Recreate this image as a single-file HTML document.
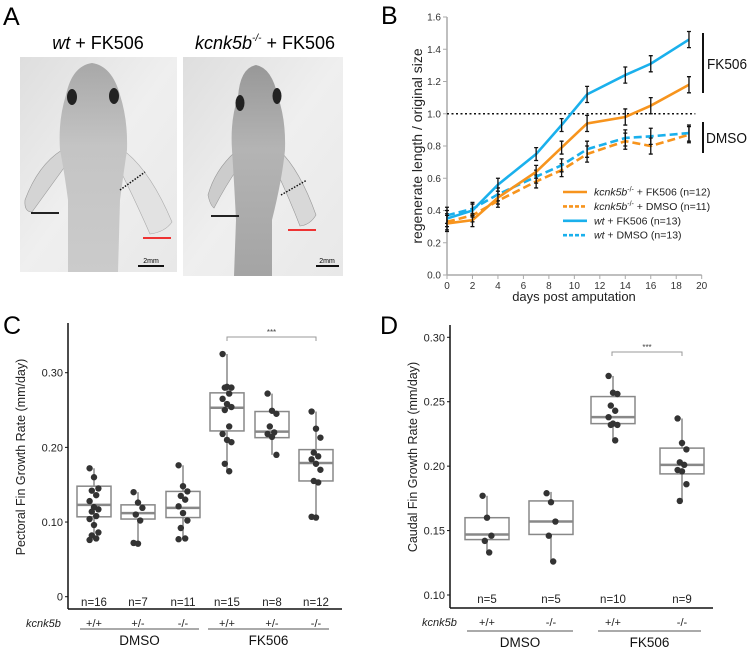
<!DOCTYPE html>
<html><head><meta charset="utf-8"><style>
html,body{margin:0;padding:0;background:#fff;}
svg{display:block;font-family:"Liberation Sans",sans-serif;}
</style></head><body>
<svg id="fig" width="750" height="649" viewBox="0 0 750 649" xmlns="http://www.w3.org/2000/svg">
<defs>
<linearGradient id="bg1" x1="0" y1="0" x2="1" y2="1"><stop offset="0" stop-color="#dedede"/><stop offset="0.5" stop-color="#efefef"/><stop offset="1" stop-color="#e8e8e8"/></linearGradient>
<linearGradient id="body1" x1="0" y1="0" x2="0" y2="1"><stop offset="0" stop-color="#a8a8a8"/><stop offset="0.4" stop-color="#c4c4c4"/><stop offset="1" stop-color="#cbcbcb"/></linearGradient>
<linearGradient id="body2" x1="0" y1="0" x2="0" y2="1"><stop offset="0" stop-color="#989898"/><stop offset="0.4" stop-color="#b4b4b4"/><stop offset="1" stop-color="#a4a4a4"/></linearGradient>
</defs>
<!-- Panel A -->
<g>
<text x="3" y="25" font-size="25">A</text>
<text x="98" y="49" font-size="18" text-anchor="middle"><tspan font-style="italic">wt</tspan> + FK506</text>
<text x="265" y="49" font-size="18" text-anchor="middle"><tspan font-style="italic">kcnk5b</tspan><tspan font-size="10" dy="-8" font-style="italic">-/-</tspan><tspan dy="8"> + FK506</tspan></text>
<g>
<rect x="20" y="57" width="157" height="215" fill="url(#bg1)"/>
<path d="M62,150 Q38,165 25,200 Q24,212 32,212 Q48,190 66,165 Z" fill="#d4d4d4" stroke="#999" stroke-width="0.6"/>
<path d="M123,150 Q150,170 172,222 Q165,232 150,234 Q135,200 120,170 Z" fill="#e2e2e2" stroke="#aaa" stroke-width="0.6"/>
<path d="M92,63 Q72,66 66,95 Q58,120 60,150 Q64,170 68,200 L68,272 L118,272 L120,200 Q124,170 127,150 Q128,120 120,95 Q112,66 92,63 Z" fill="url(#body1)"/>
<ellipse cx="72" cy="97" rx="5" ry="8" fill="#222"/>
<ellipse cx="114" cy="96" rx="5" ry="8" fill="#222"/>
<line x1="31" y1="213" x2="59" y2="213" stroke="#222" stroke-width="2"/>
<line x1="143" y1="238" x2="171" y2="238" stroke="#e33" stroke-width="2"/>
<line x1="120" y1="190" x2="145" y2="172" stroke="#111" stroke-width="1.5" stroke-dasharray="1.5,1.5"/>
<line x1="138" y1="266" x2="164" y2="266" stroke="#111" stroke-width="2"/>
<text x="151" y="263" font-size="7" text-anchor="middle">2mm</text>
</g>
<g>
<rect x="183" y="57" width="160" height="219" fill="url(#bg1)"/>
<path d="M235,152 Q215,170 208,195 Q210,205 214,208 Q226,185 238,168 Z" fill="#cccccc" stroke="#999" stroke-width="0.6"/>
<path d="M279,150 Q300,170 316,215 Q310,225 300,226 Q290,200 276,170 Z" fill="#d8d8d8" stroke="#999" stroke-width="0.6"/>
<path d="M256,65 Q240,68 238,97 Q230,120 232,150 Q234,180 236,220 L234,276 L272,276 L272,220 Q282,180 285,150 Q286,120 278,97 Q272,68 256,65 Z" fill="url(#body2)"/>
<ellipse cx="240" cy="103" rx="4.5" ry="8" fill="#222"/>
<ellipse cx="277" cy="96" rx="4.5" ry="8" fill="#222"/>
<line x1="211" y1="216" x2="239" y2="216" stroke="#222" stroke-width="2"/>
<line x1="288" y1="230" x2="316" y2="230" stroke="#e33" stroke-width="2"/>
<line x1="281" y1="195" x2="307" y2="180" stroke="#111" stroke-width="1.5" stroke-dasharray="1.5,1.5"/>
<line x1="316" y1="266" x2="339" y2="266" stroke="#111" stroke-width="2"/>
<text x="327" y="263" font-size="7" text-anchor="middle">2mm</text>
</g>
</g>
<g id="pb"></g>
<g id="pc"></g>
<g id="pd"></g>
</svg>
<script>
// ---------- Panel B data ----------
const daysB = [0,2,4,7,9,11,14,16,19];
const kcnkFK = [0.32,0.34,0.48,0.64,0.79,0.94,0.98,1.05,1.18];
const kcnkDM = [0.33,0.37,0.46,0.58,0.65,0.75,0.83,0.80,0.87];
const wtFK = [0.35,0.40,0.56,0.75,0.93,1.12,1.24,1.31,1.46];
const wtDM = [0.37,0.41,0.50,0.61,0.68,0.78,0.85,0.86,0.88];
const errB = [0.05,0.04,0.04,0.04,0.04,0.05,0.05,0.05,0.05];
const yTicksB = [0,0.2,0.4,0.6,0.8,1.0,1.2,1.4,1.6];
const xTicksB = [0,2,4,6,8,10,12,14,16,18,20];

// ---------- Panel C data ----------
const catsC = ['+/+','+/-','-/-','+/+','+/-','-/-'];
const nC = ['n=16','n=7','n=11','n=15','n=8','n=12'];
const q1C = [0.107,0.104,0.106,0.222,0.213,0.155];
const medC = [0.123,0.112,0.119,0.253,0.221,0.179];
const q3C = [0.148,0.123,0.141,0.273,0.248,0.197];
const minC = [0.076,0.072,0.077,0.168,0.190,0.107];
const maxC = [0.172,0.140,0.176,0.325,0.272,0.248];
const ptsC = [
 [0.172,0.160,0.145,0.142,0.136,0.128,0.120,0.117,0.114,0.108,0.104,0.096,0.086,0.082,0.078,0.076],
 [0.140,0.126,0.119,0.110,0.102,0.072,0.071],
 [0.176,0.148,0.141,0.135,0.130,0.121,0.112,0.102,0.092,0.078,0.077],
 [0.325,0.281,0.280,0.280,0.272,0.265,0.258,0.254,0.250,0.228,0.218,0.210,0.207,0.178,0.168],
 [0.272,0.249,0.245,0.228,0.220,0.218,0.214,0.190],
 [0.248,0.225,0.213,0.193,0.188,0.184,0.178,0.170,0.155,0.153,0.107,0.106]];
const yTicksC = [0,0.10,0.20,0.30];
const yLabC = ['0','0.10','0.20','0.30'];

// ---------- Panel D data ----------
const catsD = ['+/+','-/-','+/+','-/-'];
const nD = ['n=5','n=5','n=10','n=9'];
const q1D = [0.143,0.147,0.233,0.194];
const medD = [0.147,0.157,0.238,0.201];
const q3D = [0.160,0.173,0.254,0.214];
const minD = [0.133,0.126,0.220,0.173];
const maxD = [0.177,0.180,0.270,0.237];
const ptsD = [
 [0.177,0.160,0.146,0.142,0.133],
 [0.179,0.172,0.157,0.146,0.126],
 [0.270,0.257,0.256,0.247,0.243,0.238,0.233,0.232,0.232,0.220],
 [0.237,0.218,0.213,0.203,0.201,0.197,0.196,0.186,0.173]];
const yTicksD = [0.10,0.15,0.20,0.25,0.30];
const yLabD = ['0.10','0.15','0.20','0.25','0.30'];

const NS='http://www.w3.org/2000/svg';
function mk(parent, tag, attrs, txt){
  const e=document.createElementNS(NS,tag);
  for(const k in attrs) e.setAttribute(k,attrs[k]);
  if(txt!==undefined) e.textContent=txt;
  parent.appendChild(e); return e;
}
let el;

// ===== Panel B =====
(function(){
const g=document.getElementById('pb');
const X=d=>447+d*(701.7-447)/20;
const Y=v=>275-v*(275-17)/1.6;
el=mk(g,'text',{x:381,y:24,'font-size':25},'B');


el=mk(g,'line',{x1:447,y1:Y(1.6),x2:447,y2:275,stroke:'#aaa','stroke-width':1.5});


el=mk(g,'line',{x1:447,y1:275,x2:X(20),y2:275,stroke:'#aaa','stroke-width':1.5});


yTicksB.forEach(v=>{
  el=mk(g,'line',{x1:443,y1:Y(v),x2:447,y2:Y(v),stroke:'#aaa'});
  
  
  el=mk(g,'text',{x:441,y:Y(v)+3.5,'font-size':10,'text-anchor':'end',fill:'#333'},v.toFixed(1));
  
  
});
xTicksB.forEach(v=>{
  el=mk(g,'line',{x1:X(v),y1:275,x2:X(v),y2:279,stroke:'#aaa'});
  
  
  el=mk(g,'text',{x:X(v),y:289,'font-size':10,'text-anchor':'middle',fill:'#333'},String(v));
  
  
});
el=mk(g,'text',{x:574,y:301,'font-size':13,'text-anchor':'middle',fill:'#222'},'days post amputation');


el=mk(g,'text',{x:0,y:0,'font-size':14,'text-anchor':'middle',fill:'#222',transform:'translate(422,146) rotate(-90)'},'regenerate length / original size');


el=mk(g,'line',{x1:447,y1:Y(1.0),x2:X(19.5),y2:Y(1.0),stroke:'#111','stroke-width':1.6,'stroke-dasharray':'2,2.5'});


const series=[[kcnkDM,'#f7941d',true],[wtDM,'#1ab0ec',true],[kcnkFK,'#f7941d',false],[wtFK,'#1ab0ec',false]];
series.forEach(([vals,col,dash])=>{
  const d=vals.map((v,i)=>(i?'L':'M')+X(daysB[i])+','+Y(v)).join(' ');
  el=mk(g,'path',{d:d,fill:'none',stroke:col,'stroke-width':2.6,'stroke-dasharray':dash?'8,4':'none'});
  
  
  vals.forEach((v,i)=>{
    const x=X(daysB[i]),e=errB[i];
    el=mk(g,'path',{d:`M${x},${Y(v+e)}L${x},${Y(v-e)}M${x-2},${Y(v+e)}L${x+2},${Y(v+e)}M${x-2},${Y(v-e)}L${x+2},${Y(v-e)}`,stroke:'#111','stroke-width':1.3,fill:'none'});
    
    
  });
});
// legend
const leg=[['kcnk5b','-/-',' + FK506 (n=12)','#f7941d',false],['kcnk5b','-/-',' + DMSO (n=11)','#f7941d',true],['wt','',' + FK506 (n=13)','#1ab0ec',false],['wt','',' + DMSO (n=13)','#1ab0ec',true]];
leg.forEach((l,i)=>{
  const y=192+i*14.4;
  el=mk(g,'line',{x1:563,y1:y,x2:587,y2:y,stroke:l[3],'stroke-width':2.6,'stroke-dasharray':l[4]?'4,2':'none'});
  
  
  const t=mk(g,'text',{x:594,y:y+3.5,'font-size':10.5,fill:'#222'});
  
  
  mk(t,'tspan',{'font-style':'italic'},l[0]);
  if(l[1]){mk(t,'tspan',{'font-size':7,dy:-4},l[1]);mk(t,'tspan',{dy:4},l[2]);} else mk(t,'tspan',{},l[2]);
});
el=mk(g,'line',{x1:703,y1:33,x2:703,y2:93,stroke:'#111','stroke-width':2});


el=mk(g,'text',{x:707,y:69,'font-size':15,fill:'#111',textLength:40,lengthAdjust:'spacingAndGlyphs'},'FK506');


el=mk(g,'line',{x1:703,y1:122,x2:703,y2:153,stroke:'#111','stroke-width':2});


el=mk(g,'text',{x:706,y:143,'font-size':15,fill:'#111',textLength:41,lengthAdjust:'spacingAndGlyphs'},'DMSO');


})();

// ===== Box plot helper =====
function boxPanel(g,o){
  const Y=v=>o.y0+(v-o.v0)*(o.y1-o.y0)/(o.v1-o.v0);
  el=mk(g,'text',{x:o.lx,y:o.ly,'font-size':25},o.label);
  
  
  el=mk(g,'line',{x1:o.ax,y1:o.top,x2:o.ax,y2:o.bot,stroke:'#111','stroke-width':1.5});
  
  
  el=mk(g,'line',{x1:o.ax,y1:o.bot,x2:o.axEnd,y2:o.bot,stroke:'#111','stroke-width':1.5});
  
  
  o.ticks.forEach((v,i)=>{
    el=mk(g,'line',{x1:o.ax-3,y1:Y(v),x2:o.ax,y2:Y(v),stroke:'#111'});
    
    
    el=mk(g,'text',{x:o.ax-5,y:Y(v)+4,'font-size':11,'text-anchor':'end',fill:'#222'},o.tickLab[i]);
    
    
  });
  el=mk(g,'text',{x:0,y:0,'font-size':12.5,'text-anchor':'middle',fill:'#222',transform:`translate(${o.tx},${o.ty}) rotate(-90)`},o.title);
  
  
  o.cx.forEach((cx,i)=>{
    const hw=o.hw;
    el=mk(g,'line',{x1:cx,y1:Y(o.max[i]),x2:cx,y2:Y(o.min[i]),stroke:'#888','stroke-width':1.5});
    
    
    el=mk(g,'rect',{x:cx-hw,y:Y(o.q3[i]),width:2*hw,height:Y(o.q1[i])-Y(o.q3[i]),fill:'#fff',stroke:'#888','stroke-width':1.5});
    
    
    el=mk(g,'line',{x1:cx-hw,y1:Y(o.med[i]),x2:cx+hw,y2:Y(o.med[i]),stroke:'#888','stroke-width':2.5});
    
    
    o.pts[i].forEach((v,j)=>{
      const jx=((j*7)%5-2)*2.2;
      el=mk(g,'circle',{cx:cx+jx,cy:Y(v),r:3.2,fill:'#333'});
      
      
    });
    el=mk(g,'text',{x:cx,y:o.ny,'font-size':11.5,'text-anchor':'middle',fill:'#222'},o.n[i]);
    
    
    el=mk(g,'text',{x:cx,y:o.gy,'font-size':11,'text-anchor':'middle',fill:'#222'},o.cats[i]);
    
    
  });
  el=mk(g,'text',{x:o.kx,y:o.gy,'font-size':11,'font-style':'italic',fill:'#222'},'kcnk5b');
  
  
  o.groups.forEach(gr=>{
    el=mk(g,'line',{x1:gr[0],y1:o.uy,x2:gr[1],y2:o.uy,stroke:'#555'});
    
    
    el=mk(g,'text',{x:(gr[0]+gr[1])/2,y:o.uy+16,'font-size':13.5,'text-anchor':'middle',fill:'#111'},gr[2]);
    
    
  });
  const s=o.sig;
  el=mk(g,'path',{d:`M${s[0]},${s[2]+4}L${s[0]},${s[2]}L${s[1]},${s[2]}L${s[1]},${s[2]+4}`,fill:'none',stroke:'#999'});
  
  
  el=mk(g,'text',{x:(s[0]+s[1])/2,y:s[2]-2,'font-size':8,'text-anchor':'middle',fill:'#444'},'***');
  
  
}

boxPanel(document.getElementById('pc'),{label:'C',lx:3,ly:334,ax:68,top:323,bot:609,axEnd:342,
  v0:0,y0:596.7,v1:0.30,y1:372.7,ticks:yTicksC,tickLab:yLabC,title:'Pectoral Fin Growth Rate (mm/day)',tx:25,ty:457,
  cx:[94,138,183,227,272,316],hw:17,q1:q1C,med:medC,q3:q3C,min:minC,max:maxC,pts:ptsC,n:nC,cats:catsC,
  ny:606,gy:627,kx:26,uy:629,groups:[[80,199,'DMSO'],[208,329,'FK506']],sig:[227,316,337]});

boxPanel(document.getElementById('pd'),{label:'D',lx:380,ly:334,ax:450,top:325,bot:608,axEnd:713,
  v0:0.10,y0:595,v1:0.30,y1:337.3,ticks:yTicksD,tickLab:yLabD,title:'Caudal Fin Growth Rate (mm/day)',tx:417,ty:457,
  cx:[487,551,613,682],hw:22,q1:q1D,med:medD,q3:q3D,min:minD,max:maxD,pts:ptsD,n:nD,cats:catsD,
  ny:603,gy:626,kx:422,uy:631,groups:[[467,573,'DMSO'],[598,701,'FK506']],sig:[612,682,352]});
</script>
</body></html>
